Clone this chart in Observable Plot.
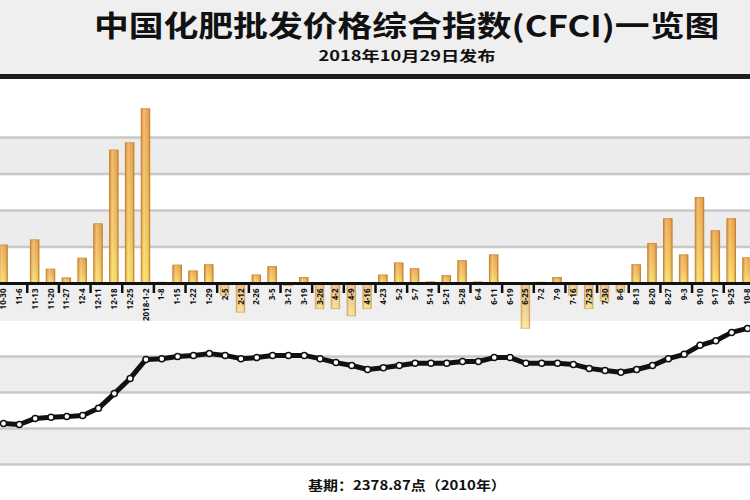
<!DOCTYPE html>
<html>
<head>
<meta charset="utf-8">
<script src="https://cdn.jsdelivr.net/npm/d3@7"></script>
<script src="https://cdn.jsdelivr.net/npm/@observablehq/plot@0.6"></script>
<style>
html,body{margin:0;padding:0;background:#fff;}
#wrap{position:relative;width:750px;height:500px;overflow:hidden;background:#fff;font-family:"Noto Sans CJK SC","Noto Sans",sans-serif;color:#111;}
#head{position:absolute;left:0;top:0;width:750px;height:74px;background:#efefef;}
#rule{position:absolute;left:0;top:74px;width:750px;height:5px;background:#1e1e1e;}
.ctr{position:absolute;left:0;width:814px;text-align:center;font-weight:700;white-space:nowrap;}
.ctr span{display:inline-block;}
#title{top:9px;font-size:29px;line-height:30px;}
#title span{transform:scaleX(1.2);}
#sub{top:48px;font-size:14px;line-height:15px;}
#sub span{transform:scaleX(1.3);}
#cap{top:477px;font-size:13px;line-height:16px;}
#cap span{transform:scaleX(1.15);}
#labband{position:absolute;left:0;top:283px;width:750px;height:38px;background:#efefef;}
#wrap svg{position:absolute;left:0;}
</style>
</head>
<body>
<div id="wrap">
  <div id="head"></div>
  <div id="rule"></div>
  <div class="ctr" id="title"><span>中国化肥批发价格综合指数(CFCI)一览图</span></div>
  <div class="ctr" id="sub"><span>2018年10月29日发布</span></div>
  <div id="labband"></div>
  <div class="ctr" id="cap"><span>基期：2378.87点（2010年）</span></div>
</div>
<script>
// ---- data ----
const dates = ["10-30","11-6","11-13","11-20","11-27","12-4","12-11","12-18","12-25","2018-1-2",
  "1-8","1-15","1-22","1-29","2-5","2-12","2-26","3-5","3-12","3-19",
  "3-26","4-2","4-9","4-16","4-23","5-2","5-7","5-14","5-21","5-28",
  "6-4","6-11","6-19","6-25","7-2","7-9","7-16","7-23","7-30","8-6",
  "8-13","8-20","8-27","9-3","9-10","9-17","9-25","10-8"];
const changes = [10.4,-0.3,11.8,3.8,1.4,6.8,16.2,36.4,38.4,47.7,
  0.2,4.9,3.3,5.0,-3.3,-8.0,2.2,4.5,-0.7,1.5,
  -7.0,-7.0,-9.0,-7.0,2.2,5.5,3.9,0.3,2.0,6.1,
  0.3,7.7,-0.3,-12.4,0.2,1.5,-3.3,-7.0,-5.0,-2.5,
  5.0,10.8,17.6,7.7,23.4,14.3,17.6,6.9];
const indexValues = [2114,2111,2128,2131,2133,2136,2156,2197,2239,2292,
  2294,2300,2303,2308,2303,2294,2297,2303,2303,2303,
  2294,2283,2275,2264,2269,2275,2281,2281,2281,2286,
  2286,2297,2297,2281,2281,2281,2278,2267,2261,2256,
  2264,2275,2294,2306,2331,2344,2367,2378];
const barGridValues = [10,20,30,40];
const barBandValues = [[10,20],[30,40]];
const lineGridValues = [2000,2100,2200,2300];
const lineBandValues = [[2000,2100],[2200,2300]];

const barRows = dates.map((d,i)=>({date:d, change:changes[i]}));
const lineRows = dates.map((d,i)=>({date:d, value:indexValues[i]}));
const tickDates = dates.filter((d,i)=>i%2===1);

const wrap = document.getElementById("wrap");
const xLo = -4.9, xHi = 754.9;
const step = (xHi - xLo) / dates.length;

// ---- top: weekly change bars ----
const barPlot = Plot.plot({
  width: 750, height: 255,
  marginTop: 0, marginBottom: 52, marginLeft: 0, marginRight: 0,
  style: {background: "transparent", overflow: "visible"},
  x: {type: "band", domain: dates, range: [xLo, xHi], paddingInner: 0.46, paddingOuter: 0.23},
  y: {domain: [0, 55.6], axis: null},
  marks: [
    Plot.rect(barBandValues, {y1: d=>d[0], y2: d=>d[1], fill: "#ececec"}),
    Plot.ruleY(barGridValues, {stroke: "#c8c8c8", strokeWidth: 2.5}),
    Plot.barY(barRows, {x: "date", y: "change", fill: "url(#barGradV)", stroke: "#d08a32", strokeWidth: 1,
      fillOpacity: d => d.change < 0 ? 0.6 : 1, strokeOpacity: d => d.change < 0 ? 0.55 : 1}),
    Plot.barY(barRows, {x: "date", y: "change", fill: "url(#barGradH)",
      fillOpacity: d => d.change < 0 ? 0.55 : 1}),
    Plot.ruleY([0], {stroke: "#111", strokeWidth: 3}),
    Plot.tickX(tickDates, {x: d => d, dx: step/2, stroke: "#111", strokeWidth: 2.5, insetTop: 203, insetBottom: -10}),
    Plot.axisX({tickSize: 0, tickRotate: -90, tickPadding: 5, fontSize: 8, fontWeight: "bold", fill: "#111", label: null})
  ]
});
d3.select(barPlot).insert("defs", ":first-child").html(
  '<linearGradient id="barGradV" x1="0" y1="0" x2="0" y2="1">' +
  '<stop offset="0" stop-color="#e99e3e"/><stop offset="0.6" stop-color="#efbb4c"/><stop offset="1" stop-color="#f5dc4e"/></linearGradient>' +
  '<linearGradient id="barGradH" x1="0" y1="0" x2="1" y2="0">' +
  '<stop offset="0" stop-color="#b8661a" stop-opacity="0.45"/><stop offset="0.35" stop-color="#ffffff" stop-opacity="0.28"/>' +
  '<stop offset="0.65" stop-color="#ffffff" stop-opacity="0.08"/><stop offset="1" stop-color="#a35a14" stop-opacity="0.5"/></linearGradient>'
);
barPlot.style.top = "80px";
wrap.appendChild(barPlot);

// ---- bottom: index line ----
const linePlot = Plot.plot({
  width: 750, height: 175,
  marginTop: 0, marginBottom: 0, marginLeft: 0, marginRight: 0,
  style: {background: "transparent", overflow: "visible"},
  x: {type: "point", domain: dates, range: [3, 747], padding: 0, axis: null},
  y: {domain: [2000, 2300], range: [164, 56], axis: null},
  marks: [
    Plot.rect(lineBandValues, {y1: d=>d[0], y2: d=>d[1], fill: "#ededed"}),
    Plot.ruleY(lineGridValues, {stroke: "#c8c8c8", strokeWidth: 2.5}),
    Plot.line(lineRows, {x: "date", y: "value", stroke: "#111", strokeWidth: 5}),
    Plot.dot(lineRows, {x: "date", y: "value", r: 3, fill: "#fff", stroke: "#111", strokeWidth: 1.5})
  ]
});
linePlot.style.top = "300px";
wrap.appendChild(linePlot);
</script>
</body>
</html>
